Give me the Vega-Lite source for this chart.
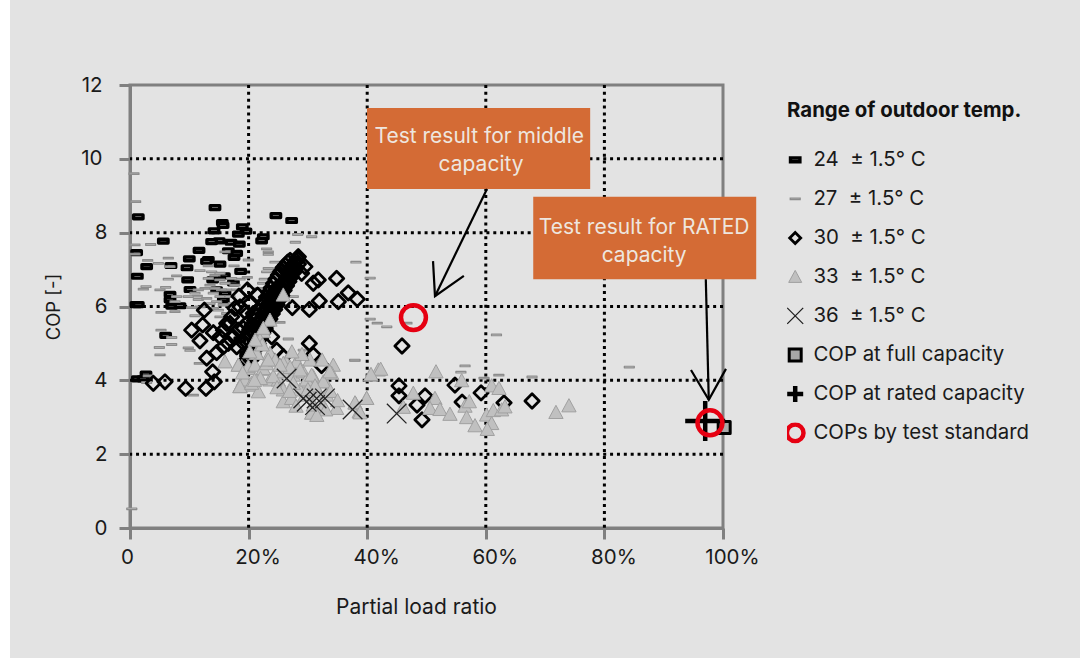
{"$schema":"https://vega.github.io/schema/vega-lite/v6.json","width":593,"height":443,"autosize":"none","padding":{"left":130,"top":85,"right":357,"bottom":130},"background":"#e3e3e3","config":{"font":"Inter","view":{"stroke":"#808080","strokeWidth":3}},
"encoding":{
"x":{"field":"x","type":"quantitative","scale":{"domain":[0,100],"nice":false},"axis":{"title":"Partial load ratio","values":[0,20,40,60,80,100],"grid":false,"labelFlush":false,"labelExpr":"datum.value==0?'0':datum.value+'%'","labelAngle":0,"labelFontSize":20.5,"labelColor":"#1a1a1a","labelPadding":8,"labelOffset":{"condition":{"test":"datum.value==0","value":-3},"value":9},"tickSize":11,"tickWidth":3,"tickColor":"#808080","domainColor":"#808080","domainWidth":3,"titleFontSize":21,"titleFontWeight":"normal","titleColor":"#1a1a1a","titlePadding":29,"titleX":286}},
"y":{"field":"y","type":"quantitative","scale":{"domain":[0,12],"nice":false},"axis":{"title":"COP [-]","values":[0,2,4,6,8,10,12],"grid":false,"labelFontSize":20.5,"labelColor":"#1a1a1a","labelPadding":{"condition":{"test":"datum.value>=10","value":17},"value":12},"tickSize":11,"tickWidth":3,"tickColor":"#808080","domainColor":"#808080","domainWidth":3,"titleFontSize":18.5,"titleFontWeight":"normal","titleColor":"#1a1a1a","titlePadding":17}}
},
"layer":[
{"data":{"values":[{"x":-22,"x2":-20.24,"y":-3.6,"y2":14.4}]},"mark":{"type":"rect","fill":"#ffffff","stroke":null},"encoding":{"x2":{"field":"x2"},"y2":{"field":"y2"}}},
{"data":{"values":[{"x":20},{"x":40},{"x":60},{"x":80}]},"mark":{"type":"rule","color":"#000000","strokeWidth":3,"strokeDash":[3,3.87]},"encoding":{"y":null}},
{"data":{"values":[{"y":2},{"y":4},{"y":6},{"y":8},{"y":10}]},"mark":{"type":"rule","color":"#000000","strokeWidth":3,"strokeDash":[3,3.87]},"encoding":{"x":null}},
{"data":{"values":[
{"s":"24","x":1.40,"y":8.43},{"s":"24","x":14.33,"y":8.68},{"s":"24","x":24.6,"y":8.46},{"s":"24","x":27.26,"y":8.33},{"s":"24","x":15.57,"y":8.27},{"s":"24","x":15.7,"y":8.2},{"s":"24","x":18.94,"y":8.16},{"s":"24","x":14.17,"y":8.05},{"s":"24","x":19.56,"y":8.04},{"s":"24","x":18.27,"y":7.96},{"s":"24","x":22.48,"y":7.89},{"s":"24","x":22.2,"y":7.78},{"s":"24","x":5.62,"y":7.77},{"s":"24","x":15.06,"y":7.78},{"s":"24","x":13.77,"y":7.76},{"s":"24","x":17.03,"y":7.74},{"s":"24","x":18.44,"y":7.69},{"s":"24","x":11.64,"y":7.52},{"s":"24","x":16.58,"y":7.51},{"s":"24","x":1.12,"y":7.46},{"s":"24","x":17.99,"y":7.44},{"s":"24","x":17.54,"y":7.33},{"s":"24","x":10.0,"y":7.29},{"s":"24","x":13.21,"y":7.27},{"s":"24","x":12.9,"y":7.22},{"s":"24","x":15.18,"y":7.15},{"s":"24","x":2.81,"y":7.08},{"s":"24","x":6.91,"y":7.11},{"s":"24","x":9.61,"y":7.05},{"s":"24","x":18.66,"y":6.95},{"s":"24","x":1.24,"y":6.82},{"s":"24","x":9.72,"y":6.72},{"s":"24","x":13.94,"y":6.72},{"s":"24","x":15.91,"y":6.83},{"s":"24","x":17.43,"y":6.64},{"s":"24","x":10.12,"y":6.46},{"s":"24","x":14.61,"y":6.45},{"s":"24","x":16.02,"y":6.36},{"s":"24","x":15.74,"y":6.18},{"s":"24","x":6.75,"y":6.33},{"s":"24","x":6.75,"y":6.18},{"s":"24","x":7.03,"y":6.01},{"s":"24","x":8.43,"y":6.02},{"s":"24","x":1.0,"y":6.05},{"s":"24","x":1.4,"y":6.05},{"s":"24","x":6.01,"y":5.22},{"s":"24","x":2.7,"y":4.17},{"s":"24","x":1.24,"y":4.04},{"s":"24","x":2.2,"y":4.04},{"s":"24","x":18.5,"y":5.1},{"s":"24","x":19.5,"y":4.7},
{"s":"27","x":0.67,"y":9.6},{"s":"27","x":0.95,"y":8.84},{"s":"27","x":0.3,"y":0.52},{"s":"27","x":3.48,"y":7.68},{"s":"27","x":0.84,"y":7.67},{"s":"27","x":0.84,"y":7.42},{"s":"27","x":2.98,"y":7.25},{"s":"27","x":4.78,"y":7.17},{"s":"27","x":6.46,"y":7.31},{"s":"27","x":6.74,"y":7.08},{"s":"27","x":7.87,"y":6.83},{"s":"27","x":6.46,"y":6.74},{"s":"27","x":2.70,"y":6.54},{"s":"27","x":2.25,"y":6.47},{"s":"27","x":5.06,"y":6.45},{"s":"27","x":6.01,"y":6.52},{"s":"27","x":7.87,"y":6.27},{"s":"27","x":7.59,"y":6.13},{"s":"27","x":11.35,"y":6.28},{"s":"27","x":11.52,"y":6.19},{"s":"27","x":11.8,"y":6.97},{"s":"27","x":13.2,"y":7.1},{"s":"27","x":13.77,"y":6.94},{"s":"27","x":14.33,"y":6.85},{"s":"27","x":15.17,"y":6.9},{"s":"27","x":17.54,"y":7.1},{"s":"27","x":19.95,"y":7.26},{"s":"27","x":16.02,"y":7.48},{"s":"27","x":23.04,"y":7.56},{"s":"27","x":23.32,"y":7.48},{"s":"27","x":23.32,"y":7.41},{"s":"27","x":28.27,"y":7.95},{"s":"27","x":27.88,"y":7.74},{"s":"27","x":30.63,"y":7.89},{"s":"27","x":38.1,"y":7.2},{"s":"27","x":24.45,"y":7.2},{"s":"27","x":23.32,"y":7.03},{"s":"27","x":23.04,"y":6.94},{"s":"27","x":22.65,"y":6.74},{"s":"27","x":22.37,"y":6.63},{"s":"27","x":21.92,"y":6.49},{"s":"27","x":27.54,"y":6.27},{"s":"27","x":19.78,"y":6.79},{"s":"27","x":18.55,"y":6.74},{"s":"27","x":17.7,"y":6.58},{"s":"27","x":15.17,"y":6.72},{"s":"27","x":13.49,"y":6.58},{"s":"27","x":12.65,"y":6.49},{"s":"27","x":11.52,"y":6.45},{"s":"27","x":10.96,"y":6.36},{"s":"27","x":9.83,"y":6.27},{"s":"27","x":11.8,"y":5.99},{"s":"27","x":10.4,"y":5.97},{"s":"27","x":5.23,"y":5.84},{"s":"27","x":7.59,"y":5.86},{"s":"27","x":10.96,"y":5.75},{"s":"27","x":5.23,"y":5.36},{"s":"27","x":7.03,"y":5.16},{"s":"27","x":7.03,"y":4.97},{"s":"27","x":4.95,"y":4.89},{"s":"27","x":9.83,"y":4.88},{"s":"27","x":10.12,"y":4.81},{"s":"27","x":5.06,"y":4.69},{"s":"27","x":11.69,"y":4.46},{"s":"27","x":10.68,"y":3.6},{"s":"27","x":26.7,"y":5.12},{"s":"27","x":25.29,"y":5.57},{"s":"27","x":29.22,"y":4.82},{"s":"27","x":37.94,"y":4.54},{"s":"27","x":3.09,"y":4.12},{"s":"27","x":2.81,"y":3.94},{"s":"27","x":14.05,"y":6.36},{"s":"27","x":15.17,"y":6.27},{"s":"27","x":16.3,"y":6.45},{"s":"27","x":14.61,"y":6.13},{"s":"27","x":15.74,"y":6.04},{"s":"27","x":13.49,"y":6.08},{"s":"27","x":16.86,"y":6.27},{"s":"27","x":14.89,"y":5.9},{"s":"27","x":16.3,"y":5.81},{"s":"27","x":17.42,"y":6.08},{"s":"27","x":12.93,"y":6.22},{"s":"27","x":15.45,"y":6.45},{"s":"27","x":17.98,"y":6.45},{"s":"27","x":14.05,"y":5.95},{"s":"27","x":15.17,"y":5.72},{"s":"27","x":14.33,"y":6.49},{"s":"27","x":16.02,"y":6.63},{"s":"27","x":17.14,"y":6.76},{"s":"27","x":13.2,"y":6.76},{"s":"27","x":40.5,"y":6.77},{"s":"27","x":40.5,"y":5.66},{"s":"27","x":41.7,"y":5.55},{"s":"27","x":43.3,"y":5.45},{"s":"27","x":46.7,"y":5.55},{"s":"27","x":61.8,"y":5.23},{"s":"27","x":37.9,"y":4.55},{"s":"27","x":56.5,"y":4.39},{"s":"27","x":55.8,"y":4.22},{"s":"27","x":59.7,"y":4.06},{"s":"27","x":62.2,"y":4.14},{"s":"27","x":67.8,"y":4.09},{"s":"27","x":84.2,"y":4.36},
{"s":"30","x":3.93,"y":3.92},{"s":"30","x":5.9,"y":3.96},{"s":"30","x":9.39,"y":3.78},{"s":"30","x":12.81,"y":3.78},{"s":"30","x":14.22,"y":3.96},{"s":"30","x":13.94,"y":4.23},{"s":"30","x":12.93,"y":4.6},{"s":"30","x":14.61,"y":4.75},{"s":"30","x":11.8,"y":5.07},{"s":"30","x":10.4,"y":5.36},{"s":"30","x":14.05,"y":5.29},{"s":"30","x":12.25,"y":5.5},{"s":"30","x":12.53,"y":5.9},{"s":"30","x":18.38,"y":6.28},{"s":"30","x":19.78,"y":6.45},{"s":"30","x":21.52,"y":6.31},{"s":"30","x":28.38,"y":7.35},{"s":"30","x":29.5,"y":7.08},{"s":"30","x":28.94,"y":6.9},{"s":"30","x":30.91,"y":6.63},{"s":"30","x":31.75,"y":6.72},{"s":"30","x":34.84,"y":6.76},{"s":"30","x":36.8,"y":6.37},{"s":"30","x":38.33,"y":6.2},{"s":"30","x":35.13,"y":6.13},{"s":"30","x":31.92,"y":6.15},{"s":"30","x":30.24,"y":5.92},{"s":"30","x":27.37,"y":5.97},{"s":"30","x":30.24,"y":5.0},{"s":"30","x":30.91,"y":4.69},{"s":"30","x":32.3,"y":4.4},{"s":"30","x":23.9,"y":5.18},{"s":"30","x":24.73,"y":4.82},{"s":"30","x":25.85,"y":4.64},{"s":"30","x":27.54,"y":4.55},{"s":"30","x":45.87,"y":4.93},{"s":"30","x":45.36,"y":3.85},{"s":"30","x":45.36,"y":3.58},{"s":"30","x":49.75,"y":3.58},{"s":"30","x":48.4,"y":3.33},{"s":"30","x":49.24,"y":2.93},{"s":"30","x":54.8,"y":3.87},{"s":"30","x":56,"y":3.41},{"s":"30","x":59.2,"y":3.66},{"s":"30","x":63.07,"y":3.39},{"s":"30","x":67.8,"y":3.44},
{"s":"30","x":15.17,"y":5.18},{"s":"30","x":15.74,"y":5.36},{"s":"30","x":16.3,"y":5.54},{"s":"30","x":17.14,"y":5.72},{"s":"30","x":17.7,"y":5.95},{"s":"30","x":18.55,"y":5.99},{"s":"30","x":19.4,"y":5.86},{"s":"30","x":20.24,"y":6.08},{"s":"30","x":20.8,"y":5.81},{"s":"30","x":19.67,"y":5.54},{"s":"30","x":18.27,"y":5.36},{"s":"30","x":17.42,"y":5.18},{"s":"30","x":16.58,"y":5.0},{"s":"30","x":18,"y":4.91},{"s":"30","x":19.11,"y":5.41},{"s":"30","x":15.74,"y":4.91},{"s":"30","x":16.86,"y":5.54},
{"s":"30","x":19.2,"y":5.0},{"s":"30","x":19.6,"y":5.15},{"s":"30","x":20,"y":5.3},{"s":"30","x":21,"y":5.25},{"s":"30","x":21.4,"y":5.4},{"s":"30","x":21.8,"y":5.55},{"s":"30","x":22.2,"y":5.68},{"s":"30","x":22.6,"y":5.82},{"s":"30","x":23,"y":5.95},{"s":"30","x":23.4,"y":6.08},{"s":"30","x":23.8,"y":6.22},{"s":"30","x":24.2,"y":6.35},{"s":"30","x":24.6,"y":6.48},
{"s":"30","x":20.2,"y":5.38},{"s":"30","x":20.6,"y":5.5},{"s":"30","x":21,"y":5.62},{"s":"30","x":21.4,"y":5.75},{"s":"30","x":21.8,"y":5.88},{"s":"30","x":22.2,"y":6.0},{"s":"30","x":22.6,"y":6.12},{"s":"30","x":23,"y":6.25},{"s":"30","x":23.4,"y":6.38},{"s":"30","x":23.8,"y":6.5},{"s":"30","x":24.2,"y":6.62},{"s":"30","x":24.6,"y":6.74},{"s":"30","x":25,"y":6.85},{"s":"30","x":25.4,"y":6.95},{"s":"30","x":25.8,"y":7.05},{"s":"30","x":26.2,"y":7.12},{"s":"30","x":26.6,"y":7.2},{"s":"30","x":27,"y":7.25},
{"s":"30","x":19.6,"y":4.55},{"s":"30","x":19.9,"y":4.66},{"s":"30","x":20.2,"y":4.75},{"s":"30","x":20.5,"y":4.86},{"s":"30","x":20.8,"y":4.95},{"s":"30","x":21.1,"y":5.05},{"s":"30","x":21.3,"y":5.12},{"s":"30","x":21.6,"y":5.22},{"s":"30","x":21.9,"y":5.31},{"s":"30","x":22.1,"y":5.38},{"s":"30","x":22.4,"y":5.48},{"s":"30","x":22.6,"y":5.55},{"s":"30","x":22.9,"y":5.63},{"s":"30","x":23.2,"y":5.74},{"s":"30","x":23.4,"y":5.8},{"s":"30","x":23.7,"y":5.9},{"s":"30","x":23.9,"y":5.96},{"s":"30","x":24.2,"y":6.06},{"s":"30","x":24.4,"y":6.12},{"s":"30","x":24.7,"y":6.22},{"s":"30","x":24.9,"y":6.28},{"s":"30","x":25.2,"y":6.38},{"s":"30","x":25.4,"y":6.44},{"s":"30","x":25.6,"y":6.5},{"s":"30","x":25.9,"y":6.6},{"s":"30","x":26.1,"y":6.66},{"s":"30","x":26.3,"y":6.74},{"s":"30","x":26.6,"y":6.82},{"s":"30","x":26.8,"y":6.88},{"s":"30","x":27.0,"y":6.95},{"s":"30","x":27.3,"y":7.03},{"s":"30","x":27.5,"y":7.1},{"s":"30","x":27.8,"y":7.18},{"s":"30","x":28.0,"y":7.24},{"s":"30","x":28.2,"y":7.3},
{"s":"30","x":20.4,"y":4.55},{"s":"30","x":20.8,"y":4.7},{"s":"30","x":21.2,"y":4.85},{"s":"30","x":21.6,"y":5},{"s":"30","x":22,"y":5.14},{"s":"30","x":22.4,"y":5.28},{"s":"30","x":22.8,"y":5.4},{"s":"30","x":23.2,"y":5.52},{"s":"30","x":23.6,"y":5.66},{"s":"30","x":24,"y":5.8},{"s":"30","x":24.4,"y":5.92},{"s":"30","x":24.8,"y":6.05},{"s":"30","x":25.2,"y":6.18},{"s":"30","x":25.6,"y":6.3},{"s":"30","x":26,"y":6.44},{"s":"30","x":26.4,"y":6.56},{"s":"30","x":26.8,"y":6.68},{"s":"30","x":27.2,"y":6.8},{"s":"30","x":27.6,"y":6.92},{"s":"30","x":28,"y":7.05},{"s":"30","x":28.4,"y":7.15},
{"s":"33","x":16.02,"y":4.5},{"s":"33","x":18.26,"y":4.41},{"s":"33","x":19.95,"y":4.32},{"s":"33","x":22.48,"y":5.32},{"s":"33","x":21.92,"y":5.09},{"s":"33","x":21.35,"y":4.73},{"s":"33","x":23.6,"y":4.69},{"s":"33","x":19.1,"y":4.01},{"s":"33","x":18.54,"y":3.83},{"s":"33","x":20.51,"y":3.87},{"s":"33","x":21.64,"y":3.69},{"s":"33","x":22.48,"y":4.3},{"s":"33","x":23.6,"y":4.01},{"s":"33","x":25.0,"y":4.01},{"s":"33","x":26.3,"y":4.5},{"s":"33","x":28.1,"y":4.5},{"s":"33","x":30.35,"y":4.55},{"s":"33","x":25.85,"y":4.23},{"s":"33","x":27.54,"y":4.14},{"s":"33","x":29.2,"y":4.23},{"s":"33","x":30.9,"y":4.1},{"s":"33","x":29.67,"y":3.96},{"s":"33","x":32.88,"y":3.96},{"s":"33","x":34.28,"y":4.41},{"s":"33","x":34,"y":4.19},{"s":"33","x":25.85,"y":3.42},{"s":"33","x":27.25,"y":3.51},{"s":"33","x":30.63,"y":3.11},{"s":"33","x":30.9,"y":3.33},{"s":"33","x":32.6,"y":3.29},{"s":"33","x":34.84,"y":3.24},{"s":"33","x":33.16,"y":3.6},{"s":"33","x":28.66,"y":3.74},{"s":"33","x":25.85,"y":3.74},{"s":"33","x":31.75,"y":3.69},{"s":"33","x":38.0,"y":3.38},{"s":"33","x":39.9,"y":3.51},{"s":"33","x":38.66,"y":3.15},{"s":"33","x":40.6,"y":4.14},{"s":"33","x":41.87,"y":4.28},{"s":"33","x":25.85,"y":6.31},{"s":"33","x":23.6,"y":5.63},{"s":"33","x":22.48,"y":5.41},{"s":"33","x":23.6,"y":4.73},{"s":"33","x":21.35,"y":4.73},{"s":"33","x":19.95,"y":4.37},{"s":"33","x":18.27,"y":4.41},{"s":"33","x":21.07,"y":4.41},{"s":"33","x":22.48,"y":4.32},{"s":"33","x":19.39,"y":4.01},{"s":"33","x":18.55,"y":3.83},{"s":"33","x":20.5,"y":3.92},{"s":"33","x":25.85,"y":4.46},{"s":"33","x":28.1,"y":4.5},{"s":"33","x":29.78,"y":4.01},{"s":"33","x":32.6,"y":3.96},{"s":"33","x":30.63,"y":4.14},{"s":"33","x":27.54,"y":3.92},{"s":"33","x":24.17,"y":4.1},{"s":"33","x":26.9,"y":3.7},{"s":"33","x":28,"y":3.3},{"s":"33","x":29.5,"y":3.6},{"s":"33","x":31.2,"y":3.85},{"s":"33","x":33.8,"y":3.7},{"s":"33","x":24.8,"y":3.8},{"s":"33","x":27,"y":4.35},{"s":"33","x":29,"y":4.7},{"s":"33","x":23,"y":4.45},{"s":"33","x":24.5,"y":4.55},{"s":"33","x":22,"y":4.05},{"s":"33","x":19,"y":4.2},{"s":"33","x":21,"y":4.0},{"s":"33","x":33,"y":3.2},{"s":"33","x":35,"y":3.45},{"s":"33","x":31.5,"y":3.05},{"s":"33","x":30,"y":3.75},{"s":"33","x":22.3,"y":4.96},{"s":"33","x":23.3,"y":4.55},{"s":"33","x":21.1,"y":5.09},{"s":"33","x":20.2,"y":4.77},{"s":"33","x":25.3,"y":4.41},{"s":"33","x":27.3,"y":4.77},{"s":"33","x":28.7,"y":4.28},{"s":"33","x":32.4,"y":4.55},{"s":"33","x":33.7,"y":4.23},{"s":"33","x":42.27,"y":4.3},{"s":"33","x":40.64,"y":4.16},{"s":"33","x":39.91,"y":3.51},{"s":"33","x":37.94,"y":3.39},{"s":"33","x":38.79,"y":3.12},{"s":"33","x":46.09,"y":3.27},{"s":"33","x":47.78,"y":3.65},{"s":"33","x":51.43,"y":3.51},{"s":"33","x":50.59,"y":3.24},{"s":"33","x":52.27,"y":3.21},{"s":"33","x":53.96,"y":3.08},{"s":"33","x":51.6,"y":4.23},{"s":"33","x":55.93,"y":3.99},{"s":"33","x":56.49,"y":3.3},{"s":"33","x":57.22,"y":3.42},{"s":"33","x":56.77,"y":2.99},{"s":"33","x":58.18,"y":2.77},{"s":"33","x":60.14,"y":3.06},{"s":"33","x":60.99,"y":2.83},{"s":"33","x":60.25,"y":2.67},{"s":"33","x":61.27,"y":3.18},{"s":"33","x":62.67,"y":3.2},{"s":"33","x":63.23,"y":3.28},{"s":"33","x":60.99,"y":3.85},{"s":"33","x":62.22,"y":3.78},{"s":"33","x":71.83,"y":3.13},{"s":"33","x":74.02,"y":3.31},
{"s":"36","x":26.41,"y":4.05},{"s":"36","x":29.22,"y":3.51},{"s":"36","x":31.47,"y":3.51},{"s":"36","x":31.2,"y":3.33},{"s":"36","x":32.88,"y":3.51},{"s":"36","x":29.8,"y":3.42},{"s":"36","x":37.54,"y":3.21},{"s":"36","x":44.97,"y":3.1},
{"s":"full","x":100.2,"y":2.72},{"s":"rated","x":97,"y":2.9},{"s":"std","x":47.8,"y":5.7},{"s":"std","x":97.8,"y":2.85}
]},
"mark":{"type":"point","filled":true,"opacity":1,"strokeJoin":"round"},
"encoding":{
"shape":{"field":"s","type":"nominal","scale":{"domain":["24","27","30","33","36","full","rated","std"],"range":["M-4.7,-1.9H4.7V1.9H-4.7Z","M-5,-0.8H5V0.8H-5Z","M0,-5.5L5.5,0L0,5.5L-5.5,0Z","M0,-6.5L6.5,5.5L-6.5,5.5Z","M-8,-8L8,8M-8,8L8,-8","M-6,-6H6V6H-6Z","M-8,0H8M0,-8V8","M-8.3,0A8.3,8.3,0,1,1,8.3,0A8.3,8.3,0,1,1,-8.3,0Z"]},
"legend":{"orient":"none","legendX":657,"legendY":16,"title":"Range of outdoor temp.","titleFontSize":20.4,"titleFontWeight":"bold","titleColor":"#111111","titlePadding":28,"titleLimit":300,"labelFontSize":20.4,"labelColor":"#1a1a1a","labelLimit":300,"padding":0,"symbolSize":4,"symbolOffset":-2,"labelOffset":8,"rowPadding":18,"clipHeight":21,"labelExpr":"datum.label=='full'?'COP at full capacity':datum.label=='rated'?'COP at rated capacity':datum.label=='std'?'COPs by test standard':datum.label+'\u00a0\u00a0±\u00a01.5°\u00a0C'","encoding":{"symbols":{"strokeWidth":{"value":{"signal":"datum.value=='24'?3.4:datum.value=='27'?1.2:datum.value=='30'?2.8:datum.value=='33'?1:datum.value=='36'?1.3:datum.value=='full'?3:4.5"}}}}}},
"fill":{"field":"s","type":"nominal","scale":{"domain":["24","27","30","33","36","full","rated","std"],"range":["#bbbbbb","#c8c8c8","transparent","#c0c0c0","transparent","#a8a8a8","transparent","transparent"]}},
"stroke":{"field":"s","type":"nominal","scale":{"domain":["24","27","30","33","36","full","rated","std"],"range":["#000000","#8c8c8c","#000000","#a0a0a0","#222222","#000000","#000000","#e60012"]}},
"size":{"condition":[{"test":"datum.s=='rated'","value":25},{"test":"datum.s=='std'","value":9},{"test":"datum.s=='30'","value":6.76},{"test":"datum.s=='33'","value":4.84},{"test":"datum.s=='36'","value":6}],"value":4},
"strokeWidth":{"condition":[{"test":"datum.s=='24'","value":3.4},{"test":"datum.s=='27'","value":1.2},{"test":"datum.s=='30'","value":2.8},{"test":"datum.s=='33'","value":1},{"test":"datum.s=='36'","value":1.3},{"test":"datum.s=='full'","value":3}],"value":4.5}
}},
{"data":{"values":[{"x":39.97,"x2":77.6,"y":9.18,"y2":11.38},{"x":68,"x2":105.6,"y":6.74,"y2":8.97}]},"mark":{"type":"rect","fill":"#d46b35","stroke":null},"encoding":{"x2":{"field":"x2"},"y2":{"field":"y2"}}},
{"data":{"values":[{"t":"Test result for middle","x":58.9,"y":10.6},{"t":"capacity","x":59.2,"y":9.84},{"t":"Test result for RATED","x":86.7,"y":8.13},{"t":"capacity","x":86.7,"y":7.37}]},"mark":{"type":"text","color":"#eee6df","fontSize":21,"align":"center","baseline":"middle"},"encoding":{"text":{"field":"t"}}},
{"data":{"values":[{"g":"a","o":1,"x":60.2,"y":9.18},{"g":"a","o":2,"x":51.43,"y":6.28},{"g":"b","o":1,"x":51.1,"y":7.23},{"g":"b","o":2,"x":51.43,"y":6.28},{"g":"b","o":3,"x":56.3,"y":6.83},{"g":"c","o":1,"x":97.1,"y":6.74},{"g":"c","o":2,"x":97.6,"y":3.47},{"g":"d","o":1,"x":94.6,"y":4.28},{"g":"d","o":2,"x":97.6,"y":3.47},{"g":"d","o":3,"x":100.5,"y":4.31}]},"mark":{"type":"line","color":"#000000","strokeWidth":2.2},"encoding":{"detail":{"field":"g"},"order":{"field":"o"}}}
]}
